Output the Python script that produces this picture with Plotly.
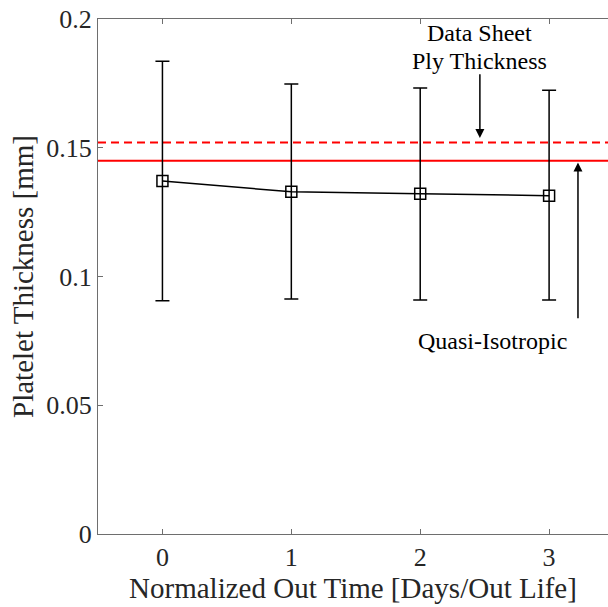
import plotly.graph_objects as go

# Platelet thickness vs normalized out time
out_time = [0, 1, 2, 3]
thickness_mean = [0.1371, 0.1329, 0.1321, 0.1314]
err_plus = [0.0465, 0.0419, 0.0411, 0.0409]
err_minus = [0.0465, 0.0416, 0.0412, 0.0405]

datasheet_ply = 0.152
quasi_isotropic = 0.145

x_range = [-0.5, 3.457]
serif = "Liberation Serif"
axis_color = "#6e6e6e"
text_color = "#262626"

fig = go.Figure()

# Reference thickness lines
fig.add_trace(go.Scatter(
    x=x_range, y=[datasheet_ply, datasheet_ply], mode="lines",
    line=dict(color="#ff0000", width=2, dash="8px,5px"),
    hoverinfo="skip", showlegend=False,
))
fig.add_trace(go.Scatter(
    x=x_range, y=[quasi_isotropic, quasi_isotropic], mode="lines",
    line=dict(color="#ff0000", width=2),
    hoverinfo="skip", showlegend=False,
))

# Measured platelet thickness with error bars
fig.add_trace(go.Scatter(
    x=out_time, y=thickness_mean, mode="lines+markers",
    line=dict(color="black", width=1.5),
    marker=dict(symbol="square-open", size=11, color="black", line=dict(width=1.5)),
    error_y=dict(type="data", symmetric=False, array=err_plus, arrayminus=err_minus,
                 visible=True, color="black", thickness=1.5, width=7),
    showlegend=False,
))

# Arrow annotations
fig.add_annotation(
    x=2.463, y=0.1538, ax=2.463, ay=0.1791, axref="x", ayref="y",
    showarrow=True, arrowhead=2, arrowsize=1.2, arrowwidth=1.5, arrowcolor="black",
    text="",
)
fig.add_annotation(
    x=2.463, y=0.1946, text="Data Sheet", showarrow=False,
    font=dict(family=serif, size=24, color="black"),
)
fig.add_annotation(
    x=2.463, y=0.1838, text="Ply Thickness", showarrow=False,
    font=dict(family=serif, size=24, color="black"),
)
fig.add_annotation(
    x=3.224, y=0.1443, ax=3.224, ay=0.0832, axref="x", ayref="y",
    showarrow=True, arrowhead=2, arrowsize=1.2, arrowwidth=1.5, arrowcolor="black",
    text="",
)
fig.add_annotation(
    x=2.564, y=0.0751, text="Quasi-Isotropic", showarrow=False,
    font=dict(family=serif, size=24, color="black"),
)

fig.update_layout(
    width=608, height=607,
    margin=dict(l=98, r=0, t=19, b=73),
    paper_bgcolor="white", plot_bgcolor="white",
    font=dict(family=serif, size=26, color=text_color),
    xaxis=dict(
        range=x_range, tickvals=out_time, ticktext=[str(v) for v in out_time],
        showline=True, linecolor=axis_color, linewidth=1, mirror="ticks",
        ticks="inside", ticklen=5, tickcolor=axis_color, showgrid=False, zeroline=False,
        tickfont=dict(size=26),
        title=dict(text="Normalized Out Time [Days/Out Life]", font=dict(size=29), standoff=4),
    ),
    yaxis=dict(
        range=[0, 0.2], tickvals=[0, 0.05, 0.1, 0.15, 0.2],
        ticktext=["0", "0.05", "0.1", "0.15", "0.2"],
        showline=True, linecolor=axis_color, linewidth=1, mirror=False,
        ticks="inside", ticklen=5, tickcolor=axis_color, showgrid=False, zeroline=False,
        tickfont=dict(size=26),
        title=dict(text="Platelet Thickness [mm]", font=dict(size=29), standoff=4),
    ),
)

fig.write_html("out.html")
